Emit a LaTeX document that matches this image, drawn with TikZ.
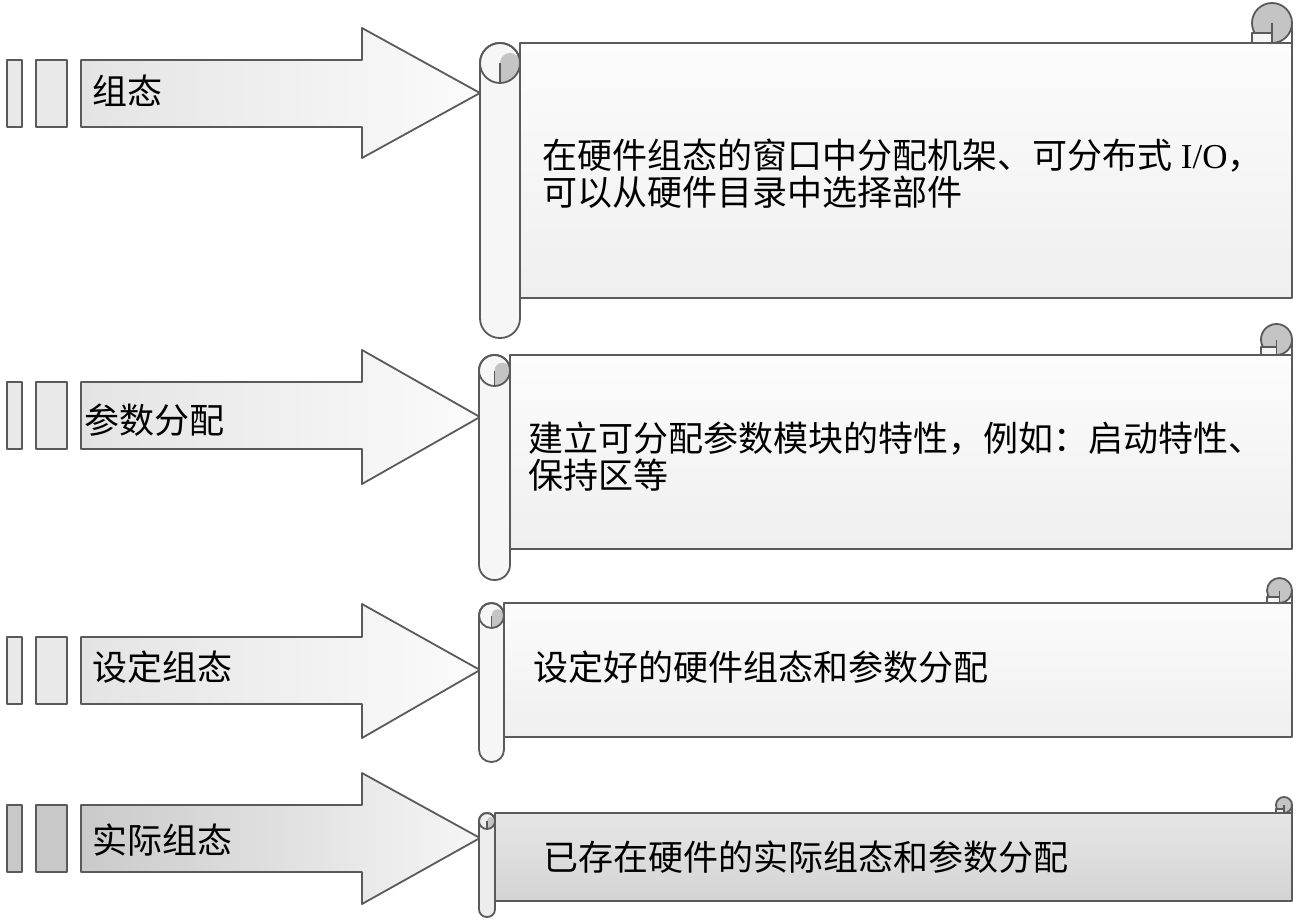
\documentclass[tikz,border=0pt]{standalone}
\usepackage{fontspec}
\setmainfont{Liberation Serif}
\newfontfamily\cjk{Noto Sans CJK SC}
\definecolor{lncol}{HTML}{5A5A5A}
\definecolor{arL}{HTML}{E4E4E4}
\definecolor{arR}{HTML}{FBFBFB}
\definecolor{arLd}{HTML}{CACACA}
\definecolor{arRd}{HTML}{F6F6F6}
\definecolor{boxL}{HTML}{E9E9E9}
\definecolor{boxD}{HTML}{C8C8C8}
\definecolor{bodyT}{HTML}{FCFCFC}
\definecolor{bodyB}{HTML}{EFEFEF}
\definecolor{bodyTd}{HTML}{E6E6E6}
\definecolor{bodyBd}{HTML}{D4D4D4}
\definecolor{rollc}{HTML}{F6F6F6}
\definecolor{rollcd}{HTML}{EDEDED}
\definecolor{curlc}{HTML}{C4C4C4}
\tikzset{
  ln/.style={draw=lncol, line width=1.8pt, line join=round},
  thin ln/.style={draw=lncol, line width=1.1pt},
  arrowfill/.style={ln, left color=arL, right color=arR},
  arrowfilld/.style={ln, left color=arLd, right color=arRd},
  boxfill/.style={ln, fill=boxL},
  boxfilld/.style={ln, fill=boxD},
  bodyfill/.style={ln, top color=bodyT, bottom color=bodyB},
  bodyfilld/.style={ln, top color=bodyTd, bottom color=bodyBd},
  rollfill/.style={ln, fill=rollc},
  rollfilld/.style={ln, fill=rollcd},
  curl/.style={fill=curlc},
  lab/.style={font=\cjk\fontsize{35}{40}\selectfont, inner sep=0pt, anchor=west},
  txt/.style={font=\cjk\fontsize{35}{37}\selectfont, inner sep=0pt, anchor=west, align=left},
}
% arrow row: #1 body top, #2 body bottom, #3 head top, #4 head bottom, #5 tip y, #6 arrow style, #7 box style
\newcommand\myarrowrow[7]{%
  \filldraw[#7] (7,#1) rectangle (22,#2);
  \filldraw[#7] (36,#1) rectangle (67,#2);
  \filldraw[#6] (81,#1) -- (362,#1) -- (362,#3) -- (480,#5) -- (362,#4) -- (362,#2) -- (81,#2) -- cycle;
}
% scroll: #1 L, #2 T, #3 R, #4 B, #5 s, #6 body style, #7 roll style
\newcommand\myscroll[7]{%
  \filldraw[#6] ({#1+#5},{#2+#5}) rectangle (#3,{#4-#5});
  % top-right curl
  \filldraw[ln, curl] ({#3-#5/2},{#2+#5/2}) circle ({#5/2});
  \filldraw[thin ln, #7] ({#3-#5},{#2+0.75*#5}) rectangle ({#3-#5/2},{#2+#5});
  \draw[thin ln] ({#3-#5/2},{#2+#5/2}) -- ({#3-#5/2},{#2+#5});
  \draw[ln] ({#3},{#2+#5/2}) -- (#3,{#2+#5});
  % left roll
  \pgfmathsetlengthmacro\myrc{#5/2-0.3}%
  \filldraw[#7, rounded corners=\myrc] (#1,{#2+#5}) rectangle ({#1+#5},#4);
  \begin{scope}
    \clip ({#1+#5/2},{#2+1.5*#5}) circle ({#5/2});
    \fill[curl] ({#1+#5/2},{#2+1.5*#5}) rectangle ({#1+#5},{#2+2*#5});
    \fill[curl] ({#1+0.75*#5},{#2+1.5*#5}) circle ({#5/4});
  \end{scope}
  \draw[thin ln] ({#1+#5/2},{#2+2*#5}) -- ({#1+#5/2},{#2+1.5*#5});
  \draw[ln] ({#1+#5/2},{#2+1.5*#5}) circle ({#5/2});
}
\begin{document}
\begin{tikzpicture}[x=1pt, y=-1pt]
\useasboundingbox[fill=white] (0,0) rectangle (1296,920);

% row 1
\myarrowrow{60}{127}{28}{158}{93}{arrowfill}{boxfill}
\myscroll{480}{3}{1292}{338}{40}{bodyfill}{rollfill}
\node[lab] (l1) at (92,91) {组态};
\node[txt] (t1) at (542,174) {在硬件组态的窗口中分配机架、可分布式{\rmfamily\ I/O}，\\可以从硬件目录中选择部件};

% row 2
\myarrowrow{382}{449}{350}{484}{417}{arrowfill}{boxfill}
\myscroll{479}{324}{1292}{580}{31}{bodyfill}{rollfill}
\node[lab] (l2) at (84,420) {参数分配};
\node[txt] (t2) at (528,457) {建立可分配参数模块的特性，例如：启动特性、\\保持区等};

% row 3
\myarrowrow{637}{704}{604}{738}{670}{arrowfill}{boxfill}
\myscroll{479}{578}{1292}{762}{25}{bodyfill}{rollfill}
\node[lab] (l3) at (92,667) {设定组态};
\node[txt] (t3) at (533,667) {设定好的硬件组态和参数分配};

% row 4
\myarrowrow{805}{872}{773}{904}{838}{arrowfilld}{boxfilld}
\myscroll{479}{797}{1292}{917}{16}{bodyfilld}{rollfilld}
\node[lab] (l4) at (92,840) {实际组态};
\node[txt] (t4) at (543,857) {已存在硬件的实际组态和参数分配};
\end{tikzpicture}
\end{document}
